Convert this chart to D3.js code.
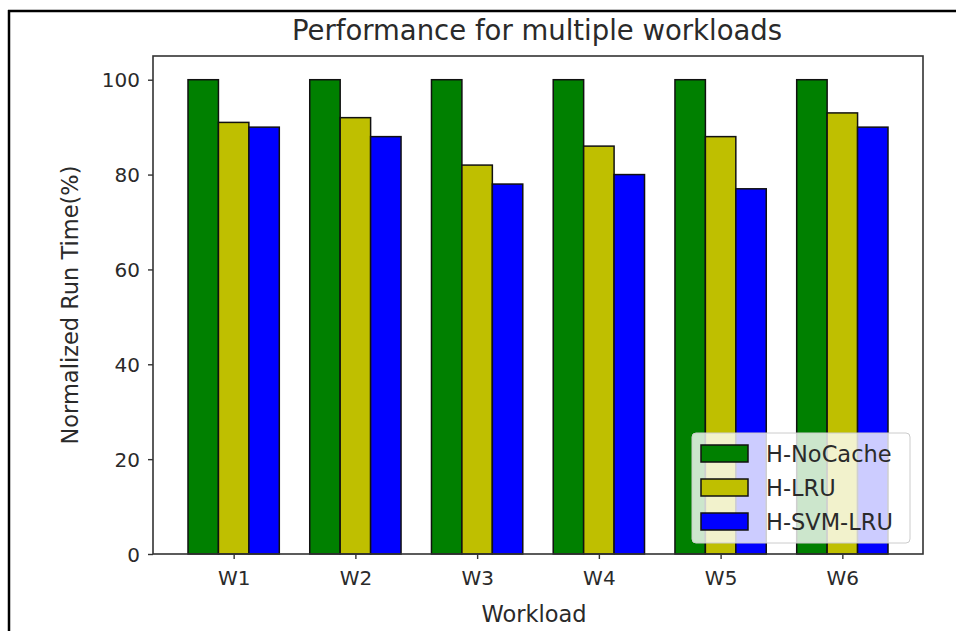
<!DOCTYPE html>
<html>
<head>
<meta charset="utf-8">
<script src="https://cdn.jsdelivr.net/npm/d3@7"></script>
<style>
  html, body { margin: 0; padding: 0; background: #fff; }
  svg { display: block; font-family: "DejaVu Sans", sans-serif; }
</style>
</head>
<body>
<svg id="chart" width="956" height="631"></svg>
<script>
// ---- data ----
const categories = ["W1", "W2", "W3", "W4", "W5", "W6"];
const seriesNames = ["H-NoCache", "H-LRU", "H-SVM-LRU"];
const noCache = [100, 100, 100, 100, 100, 100];
const lru = [91, 92, 82, 86, 88, 93];
const svmLru = [90, 88, 78, 80, 77, 90];
const seriesColors = ["#008000", "#bfbf00", "#0000ff"];
const yTicks = [0, 20, 40, 60, 80, 100];
const titleText = "Performance for multiple workloads";
const xLabel = "Workload";
const yLabel = "Normalized Run Time(%)";

const seriesValues = [noCache, lru, svmLru];

// ---- layout ----
const svg = d3.select("#chart");
const plot = { left: 153, right: 923, top: 56, bottom: 554 };
const barW = 0.25;

const x = d3.scaleLinear().domain([-0.6625, 5.6625]).range([plot.left, plot.right]);
const y = d3.scaleLinear().domain([0, 105]).range([plot.bottom, plot.top]);

// outer border (top and left only)
svg.append("line").attr("x1", 8).attr("x2", 956).attr("y1", 11).attr("y2", 11)
  .attr("stroke", "#000").attr("stroke-width", 2.5);
svg.append("line").attr("x1", 9).attr("x2", 9).attr("y1", 10).attr("y2", 631)
  .attr("stroke", "#000").attr("stroke-width", 2.5);

// bars
const g = svg.append("g");
seriesValues.forEach((vals, si) => {
  g.selectAll(null).data(vals).enter().append("rect")
    .attr("x", (d, i) => x(i + (si - 1) * barW - barW / 2))
    .attr("width", (d, i) => x(i + (si - 1) * barW + barW / 2) - x(i + (si - 1) * barW - barW / 2))
    .attr("y", d => y(d))
    .attr("height", d => y(0) - y(d))
    .attr("fill", seriesColors[si])
    .attr("stroke", "#111")
    .attr("stroke-width", 1.5);
});

// frame
svg.append("rect")
  .attr("x", plot.left).attr("y", plot.top)
  .attr("width", plot.right - plot.left).attr("height", plot.bottom - plot.top)
  .attr("fill", "none").attr("stroke", "#333").attr("stroke-width", 1.6);

// y axis
const yAxis = svg.append("g")
  .attr("transform", `translate(${plot.left},0)`)
  .call(d3.axisLeft(y).tickValues(yTicks).tickSize(5).tickPadding(8).tickFormat(d3.format("d")));
yAxis.select(".domain").remove();
yAxis.selectAll(".tick line").attr("stroke", "#333").attr("stroke-width", 1.4);
yAxis.selectAll(".tick text").attr("font-size", 20).attr("fill", "#2a2a2a")
  .attr("font-family", "DejaVu Sans, sans-serif").attr("dy", "0.36em");

// x axis
const xAxis = svg.append("g")
  .attr("transform", `translate(0,${plot.bottom})`)
  .call(d3.axisBottom(x).tickValues(d3.range(categories.length))
    .tickFormat(i => categories[i]).tickSize(5).tickPadding(12));
xAxis.select(".domain").remove();
xAxis.selectAll(".tick line").attr("stroke", "#333").attr("stroke-width", 1.4);
xAxis.selectAll(".tick text").attr("font-size", 20).attr("fill", "#2a2a2a")
  .attr("font-family", "DejaVu Sans, sans-serif");

// title
svg.append("text").attr("x", (plot.left + plot.right) / 2 - 1).attr("y", 40)
  .attr("text-anchor", "middle").attr("font-size", 27.5).attr("fill", "#2a2a2a")
  .text(titleText);

// axis labels
svg.append("text").attr("x", (plot.left + plot.right) / 2 - 4).attr("y", 622)
  .attr("text-anchor", "middle").attr("font-size", 22.5).attr("fill", "#2a2a2a")
  .text(xLabel);
svg.append("text")
  .attr("transform", `translate(78,${(plot.top + plot.bottom) / 2}) rotate(-90)`)
  .attr("text-anchor", "middle").attr("font-size", 22.5).attr("fill", "#2a2a2a")
  .text(yLabel);

// legend
const leg = svg.append("g").attr("transform", "translate(692,433)");
leg.append("rect").attr("width", 218).attr("height", 110).attr("rx", 4)
  .attr("fill", "#fff").attr("fill-opacity", 0.8)
  .attr("stroke", "#ccc").attr("stroke-width", 1);
seriesNames.forEach((name, i) => {
  const row = leg.append("g").attr("transform", `translate(0,${20 + i * 34})`);
  row.append("rect").attr("x", 9).attr("y", -8).attr("width", 47).attr("height", 17)
    .attr("fill", seriesColors[i]).attr("stroke", "#111").attr("stroke-width", 1.5);
  row.append("text").attr("x", 74).attr("y", 9).attr("font-size", 22.5).attr("fill", "#2a2a2a")
    .text(name);
});
</script>
</body>
</html>
